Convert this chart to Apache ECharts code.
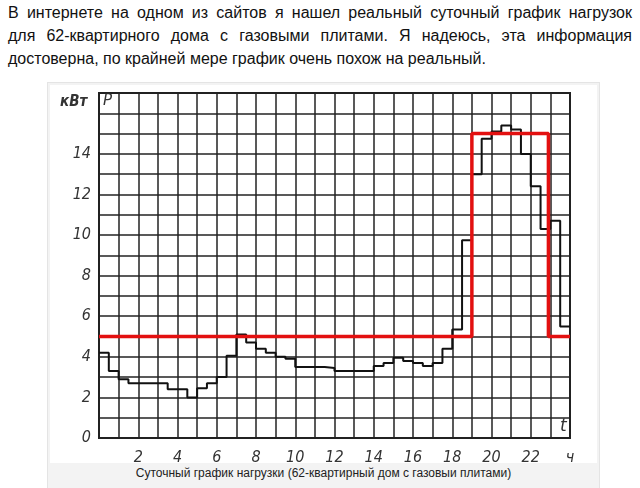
<!DOCTYPE html>
<html><head><meta charset="utf-8">
<script src="https://cdn.jsdelivr.net/npm/echarts@6/dist/echarts.min.js"></script>
<style>
body{margin:0;width:640px;height:488px;background:#fff;overflow:hidden;font-family:"Liberation Sans",Arial,sans-serif}
.ln{position:absolute;left:8px;width:624px;font-size:16px;line-height:23px;color:#111;text-align:justify;text-align-last:justify;white-space:nowrap}
.ln.last{text-align-last:left}
#frame{position:absolute;left:47px;top:82px;width:553px;height:406px;background:#f3f3f3;border:1px solid #e4e4e4;border-bottom:none;box-sizing:border-box}
#img{position:absolute;left:50px;top:85px;width:547px;height:378px;background:#fff}
#cap{position:absolute;left:47px;top:463px;width:553px;text-align:center;font-size:12px;line-height:20px;color:#222}
#c{position:absolute;left:0;top:0;width:640px;height:488px}
</style></head><body>
<div class="ln" style="top:1px">В интернете на одном из сайтов я нашел реальный суточный график нагрузок</div>
<div class="ln" style="top:24px">для 62-квартирного дома с газовыми плитами. Я надеюсь, эта информация</div>
<div class="ln last" style="top:47px">достоверна, по крайней мере график очень похож на реальный.</div>
<div id="frame"></div><div id="img"></div>
<div id="cap">Суточный график нагрузки (62-квартирный дом с газовыи плитами)</div>
<div id="c"></div>
<script>
const loadTimes=[0,0.5,1,1.5,3.5,4.5,5,5.5,6,6.5,7,7.5,8,8.5,9,9.5,10,11.5,12,14,14.5,15,15.5,16,16.5,17,17.5,18,18.5,19,19.5,20,20.5,21,21.5,22,22.5,23,23.5,24];
const loadValues=[4.2,3.3,2.9,2.7,2.4,2.0,2.45,2.7,3.0,4.05,5.1,4.7,4.4,4.2,4.0,3.9,3.5,3.45,3.3,3.55,3.7,3.95,3.8,3.7,3.55,3.7,4.4,5.35,9.75,13.0,14.75,15.1,15.4,15.2,14.0,12.4,10.3,10.7,5.5,5.5];
const avgTimes=[0,19,22.9,24];
const avgValues=[5,15,5,5];
const xTickLabels={2:'2',4:'4',6:'6',8:'8',10:'10',12:'12',14:'14',16:'16',18:'18',20:'20',22:'22',24:'ч'};
const yTickLabels={0:'0',2:'2',4:'4',6:'6',8:'8',10:'10',12:'12',14:'14'};
const chart=echarts.init(document.getElementById('c'),null,{renderer:'canvas'});
const lab={color:'#333',fontStyle:'italic',fontSize:16,fontFamily:'DejaVu Sans Condensed'};
chart.setOption({
 animation:false,
 grid:{left:99,top:93,width:471,height:345,show:true,borderColor:'#222',borderWidth:2},
 xAxis:{type:'value',min:0,max:24,interval:1,
  axisLine:{show:false},axisTick:{show:false},
  splitLine:{lineStyle:{color:'#222',width:1.5}},
  axisLabel:Object.assign({},lab,{margin:12,formatter:v=>xTickLabels[v]||''})},
 yAxis:{type:'value',min:0,max:17,interval:1,
  axisLine:{show:false},axisTick:{show:false},
  splitLine:{lineStyle:{color:'#222',width:1.5}},
  axisLabel:Object.assign({},lab,{margin:8,formatter:v=>yTickLabels[v]??''})},
 graphic:[
  {type:'text',left:60,top:95,style:{text:'кВт',fill:'#333',font:'italic bold 15px DejaVu Sans Condensed'}},
  {type:'text',left:103,top:94,style:{text:'P',fill:'#333',font:'italic 15px DejaVu Sans'}},
  {type:'text',left:560,top:418,style:{text:'t',fill:'#333',font:'italic 17px DejaVu Sans'}}
 ],
 series:[
  {type:'line',step:'end',symbol:'none',data:loadTimes.map((t,i)=>[t,loadValues[i]]),lineStyle:{color:'#111',width:2}},
  {type:'line',step:'end',symbol:'none',data:avgTimes.map((t,i)=>[t,avgValues[i]]),lineStyle:{color:'#e31010',width:3.5}}
 ]
});
</script></body></html>
